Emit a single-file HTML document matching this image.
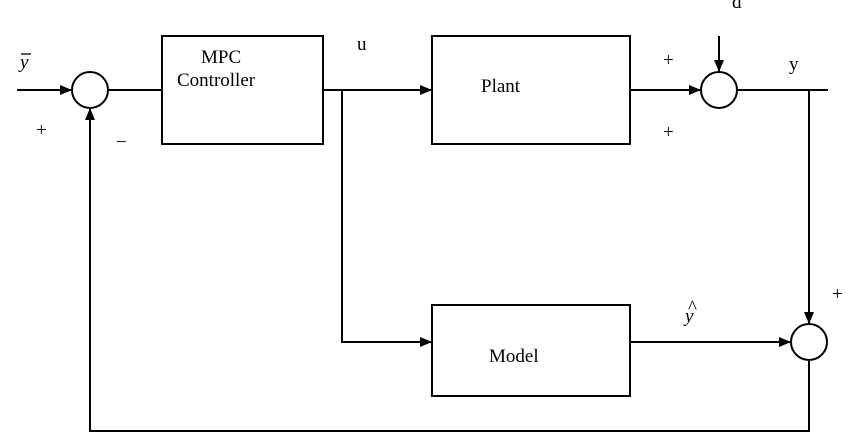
<!DOCTYPE html>
<html><head><meta charset="utf-8"><style>
html,body{margin:0;padding:0;background:#fff;}
svg{display:block;}
text{font-family:"Liberation Serif",serif;font-size:19px;fill:#000;}
</style></head><body>
<svg width="850" height="433" viewBox="0 0 850 433" xmlns="http://www.w3.org/2000/svg">
<defs>
<marker id="a" markerWidth="12" markerHeight="10" refX="12" refY="5" orient="auto" markerUnits="userSpaceOnUse">
<path d="M0,0 L12,5 L0,10 Z" fill="#000"/>
</marker>
</defs>
<g stroke="#000" stroke-width="2" fill="none">
<line x1="17" y1="90" x2="72" y2="90" marker-end="url(#a)"/>
<circle cx="90" cy="90" r="18"/>
<line x1="108" y1="90" x2="162" y2="90"/>
<rect x="162" y="36" width="161" height="108"/>
<line x1="323" y1="90" x2="432" y2="90" marker-end="url(#a)"/>
<polyline points="342,90 342,342 432,342" marker-end="url(#a)"/>
<rect x="432" y="36" width="198" height="108"/>
<line x1="630" y1="90" x2="701" y2="90" marker-end="url(#a)"/>
<line x1="719" y1="36" x2="719" y2="72" marker-end="url(#a)"/>
<circle cx="719" cy="90" r="18"/>
<line x1="737" y1="90" x2="828" y2="90"/>
<line x1="809" y1="90" x2="809" y2="324" marker-end="url(#a)"/>
<rect x="432" y="305" width="198" height="91"/>
<line x1="630" y1="342" x2="791" y2="342" marker-end="url(#a)"/>
<circle cx="809" cy="342" r="18"/>
<polyline points="809,360 809,431 90,431 90,108" marker-end="url(#a)"/>
</g>
<text x="20" y="68" font-style="italic" font-size="20">y</text>
<line x1="21" y1="54" x2="31" y2="54" stroke="#000" stroke-width="1.3"/>
<text x="36" y="136">+</text>
<text x="116" y="148">−</text>
<text x="201" y="63">MPC</text>
<text x="177" y="86">Controller</text>
<text x="357" y="50">u</text>
<text x="481" y="92">Plant</text>
<text x="663" y="66">+</text>
<text x="663" y="138">+</text>
<text x="732" y="8">d</text>
<text x="789" y="70" font-size="20">y</text>
<text x="832" y="300">+</text>
<text x="685" y="322" font-style="italic" font-size="20">y</text>
<text x="688" y="313" font-size="13">^</text>
<text x="489" y="362">Model</text>
</svg>
</body></html>
